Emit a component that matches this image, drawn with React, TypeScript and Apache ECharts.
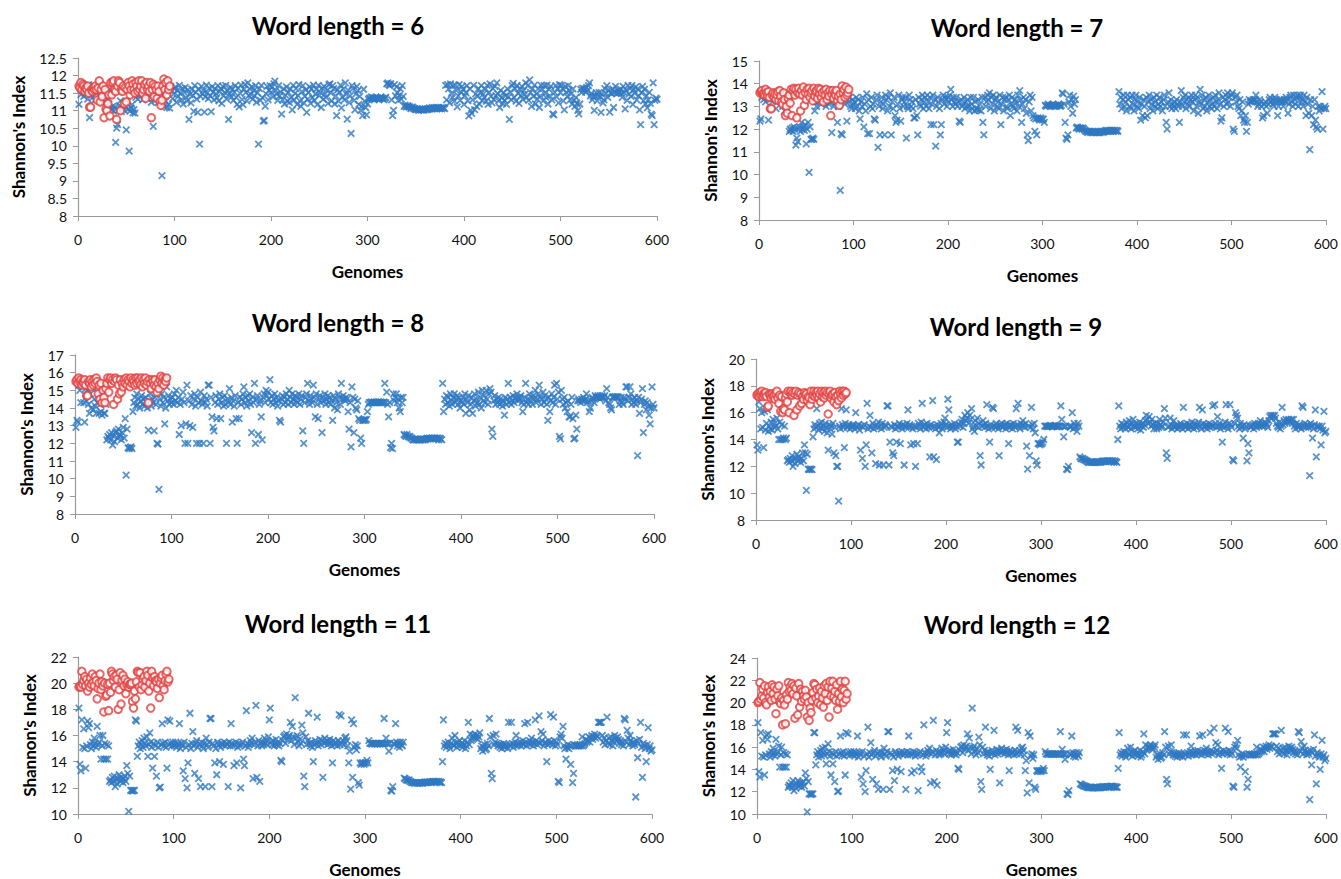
import React, { useEffect, useRef } from "react";
import * as echarts from "echarts";

// Shannon's index per genome (genome index = position + 1)
const blue6 = [
11.18,11.72,11.46,11.78,11.63,11.41,11.69,11.52,11.61,11.33,11.74,10.8,11.47,11.58,11.37,11.71,11.29,11.64,11.55,11.68,
11.43,11.62,11.27,11.73,11.51,11.22,11.57,11.42,11.13,11.49,11.31,11.19,11.61,11.08,11.03,11.12,10.98,11.09,10.1,10.5,
10.6,11.02,11.14,11.28,10.97,11.07,11.21,11.01,11.11,10.45,11.26,11.04,9.85,10.99,11.08,11.17,10.94,11.03,10.93,11.38,
11.52,11.33,11.58,11.44,11.66,11.49,11.31,11.62,11.39,11.71,11.47,11.34,11.59,11.42,11.53,11.24,11.64,10.55,11.37,11.29,
11.61,11.48,11.23,11.68,11.32,11.54,9.15,11.43,11.12,11.63,11.27,11.09,11.51,11.18,11.07,11.69,11.58,11.34,11.47,11.62,
11.68,11.24,11.57,11.41,11.72,11.49,11.31,11.63,11.19,11.53,11.66,11.38,11.28,11.59,10.75,11.46,11.22,11.61,11.43,10.98,
11.71,11.52,11.33,10.95,11.62,10.05,11.41,11.69,11.48,11.57,10.96,11.39,11.73,11.51,11.34,11.64,11.42,10.97,11.68,11.53,
11.31,11.63,11.48,11.37,11.71,11.28,11.54,11.62,11.21,11.69,11.43,11.52,11.72,11.33,11.58,10.75,11.47,11.66,11.39,11.61,
11.29,11.53,11.71,11.38,11.18,11.64,11.11,11.49,11.73,11.32,11.17,11.61,11.74,11.52,11.28,11.79,11.43,11.62,11.47,11.68,
11.33,11.57,11.42,11.71,11.24,11.51,10.05,11.63,11.29,11.72,11.37,10.7,10.72,11.13,11.48,11.69,11.31,11.58,11.71,11.52,
11.67,11.39,11.76,11.84,11.58,11.47,11.29,11.71,11.42,11.53,10.9,11.31,11.62,11.19,11.44,11.68,11.27,11.52,11.23,11.61,
11.38,11.02,11.72,11.31,11.49,11.63,11.18,11.43,11.74,11.27,11.12,11.54,11.71,11.22,11.41,11.59,10.95,11.33,11.52,11.68,
11.21,11.62,11.37,11.73,11.29,11.48,11.61,11.17,11.72,11.43,11.52,11.09,11.64,11.32,11.69,11.47,11.38,11.58,11.21,11.74,
11.76,11.51,11.28,11.71,11.63,11.19,11.42,10.86,11.59,11.27,11.53,11.73,11.08,11.39,11.62,11.31,11.79,11.47,10.76,11.58,
11.23,11.42,10.35,11.71,11.63,11.29,11.02,11.48,11.69,11.57,11.18,11.41,11.01,11.12,10.86,11.61,11.27,11.09,10.88,11.19,
11.32,11.36,11.34,11.39,11.35,11.37,11.31,11.35,11.38,11.34,11.36,11.32,11.35,11.39,11.34,11.36,11.31,11.35,11.38,11.76,
11.79,11.74,11.71,11.77,11.31,10.86,11.01,11.74,11.42,11.68,11.51,11.29,11.43,11.62,11.33,11.71,11.41,11.12,11.16,11.11,
11.12,11.14,11.1,11.11,11.06,11.09,11.1,11.05,11.06,11.02,11.05,11.04,11.01,11.05,11.03,11.02,11.05,11.01,11.04,11.05,
11.02,11.05,11.04,11.08,11.05,11.06,11.09,11.05,11.08,11.06,11.09,11.05,11.08,11.09,11.06,11.08,11.05,11.09,11.08,11.06,
11.72,11.31,11.74,11.62,11.22,11.76,11.49,11.38,11.71,11.27,11.73,11.58,11.11,11.42,11.74,11.29,11.52,11.69,11.61,11.18,
11.42,11.51,11.71,11.28,10.85,11.62,11.01,10.92,11.31,11.72,11.03,11.48,11.12,11.41,11.63,11.19,11.52,11.71,11.29,11.47,
11.38,11.61,11.27,11.72,11.18,11.52,11.76,11.41,11.22,11.63,11.32,11.69,11.43,11.79,11.48,11.28,11.09,11.58,11.37,11.21,
11.51,11.29,11.42,11.18,11.62,11.39,10.75,11.53,11.31,11.71,11.78,11.38,11.63,11.27,11.72,11.49,11.21,11.61,11.43,11.69,
11.32,11.58,11.47,11.79,11.38,11.71,11.29,11.88,11.52,11.12,11.62,11.41,11.73,11.19,11.48,11.33,11.63,11.09,11.42,11.72,
11.62,11.28,11.71,11.49,11.38,11.73,11.19,11.61,11.42,11.69,11.31,10.91,10.88,11.52,11.71,11.39,11.63,11.22,11.74,11.51,
11.72,11.63,11.28,11.02,11.69,11.52,11.41,11.71,11.58,11.31,11.48,11.19,11.62,11.29,11.12,11.38,11.21,11.01,10.91,11.19,
11.61,11.52,11.64,11.59,11.62,11.53,11.66,11.58,11.71,11.79,11.42,11.49,11.31,11.39,11.01,11.42,11.51,11.28,11.43,11.52,
11.39,10.95,11.47,11.22,11.31,11.63,11.49,11.71,11.38,11.58,10.96,11.51,11.48,11.62,11.09,11.52,11.69,11.49,11.58,11.51,
11.53,11.61,11.49,11.38,11.69,11.52,11.05,11.58,11.29,11.72,11.47,11.63,11.41,11.71,11.18,11.59,11.49,11.68,11.31,11.62,
11.42,11.02,10.6,11.51,11.69,11.28,11.61,11.19,11.43,11.08,11.31,11.52,11.21,10.9,10.86,11.79,10.6,11.29,11.36,11.32,
];
const red6 = [
11.7,11.65,11.8,11.6,11.75,11.7,11.55,11.65,11.6,11.7,11.5,11.1,11.1,11.6,11.55,11.65,11.6,11.7,11.6,11.3,
11.65,11.85,11.25,11.6,11.4,11.7,10.8,11.6,11.05,11.0,11.2,11.45,10.85,11.8,11.45,11.8,11.85,11.6,11.55,10.75,
11.7,11.85,11.8,11.0,11.6,11.55,11.7,11.2,11.65,11.25,11.6,11.8,11.7,11.45,11.6,11.85,11.75,11.6,11.5,11.8,
11.7,11.55,11.85,11.6,11.7,11.85,11.5,11.6,11.75,11.35,11.8,11.6,11.7,11.55,11.8,10.8,11.6,11.75,11.4,11.7,
11.6,11.35,11.7,11.55,11.25,11.15,11.3,11.7,11.9,11.6,11.8,11.45,11.85,11.6,11.7,
];

const blue7 = [
12.35,12.45,13.4,13.6,13.3,13.5,13.2,13.6,13.4,12.4,13.5,13.3,13.6,13.2,13.5,13.4,13.6,12.9,13.5,13.3,
13.5,13.6,13.2,13.4,13.0,13.5,12.8,13.3,13.1,12.9,13.4,11.9,12.0,11.95,12.05,11.9,12.1,12.0,11.3,11.6,
11.45,12.0,12.1,11.9,12.3,12.0,12.1,11.95,12.2,11.35,12.0,12.3,10.1,12.1,11.55,11.55,11.6,11.55,12.8,13.2,
13.0,13.4,13.2,13.5,13.3,13.1,13.4,13.6,13.2,13.5,13.0,13.3,13.4,13.1,13.5,13.2,11.85,13.4,13.0,13.3,
13.5,13.2,12.3,13.0,13.4,9.3,11.8,11.75,13.3,13.5,13.1,13.4,12.35,13.7,13.2,13.4,13.0,12.9,13.3,13.1,
13.2,12.9,13.4,13.0,13.3,12.8,12.45,13.2,13.0,13.4,12.1,13.1,12.8,13.55,11.8,13.3,11.8,13.0,13.4,12.9,
13.1,12.45,12.4,13.3,13.5,11.2,13.0,11.75,13.2,13.4,12.9,13.1,11.75,13.5,13.3,12.8,13.4,13.0,13.6,11.75,
13.2,12.9,13.4,12.6,12.3,12.4,13.1,13.5,12.9,12.35,13.3,13.4,13.0,13.2,13.4,11.6,13.0,12.9,13.5,13.3,
13.0,13.2,12.9,12.5,12.5,13.3,12.6,11.75,13.4,13.1,13.0,13.3,13.5,12.9,13.2,13.4,13.0,13.5,13.2,12.9,
13.4,12.2,13.1,13.5,12.2,13.3,11.25,13.0,13.4,13.2,12.9,11.75,12.2,13.3,13.5,13.1,13.4,13.3,13.0,13.4,
13.2,13.5,13.75,13.3,13.0,13.4,13.2,13.1,13.4,13.0,13.2,12.35,12.3,13.3,13.0,13.1,13.4,12.9,13.2,13.0,
13.3,13.0,12.8,13.4,13.1,12.9,13.4,12.8,13.2,12.9,12.85,13.3,12.85,13.1,12.8,13.4,12.3,11.75,13.4,13.0,
13.2,13.5,13.3,13.6,12.9,13.4,13.1,13.5,12.8,13.3,13.4,13.0,13.2,12.9,13.5,12.2,13.1,13.4,12.8,13.3,
13.4,13.0,12.9,13.3,13.5,12.6,13.1,13.4,13.0,12.9,13.3,13.2,12.8,13.5,13.0,13.7,13.3,12.3,13.1,13.4,
12.9,13.3,12.7,11.75,11.5,13.2,13.5,12.8,13.4,12.6,12.5,11.9,12.45,11.75,12.5,12.45,12.4,12.5,12.45,12.4,
12.45,12.3,13.05,13.0,13.05,13.1,13.05,13.0,13.05,13.05,13.1,13.0,13.05,13.05,13.0,13.05,13.1,13.05,13.0,13.05,
13.6,13.55,13.1,12.3,11.6,11.55,11.75,13.2,13.5,13.0,13.3,12.7,13.45,13.1,13.3,12.05,12.1,12.05,12.0,12.05,
12.05,12.0,12.05,12.0,11.95,11.9,11.9,11.85,11.9,11.9,11.85,11.9,11.85,11.9,11.85,11.9,11.85,11.85,11.9,11.85,
11.85,11.9,11.9,11.85,11.9,11.9,11.95,11.9,11.95,11.9,11.95,11.9,11.95,11.95,11.9,11.95,11.95,11.9,11.95,11.9,
13.65,13.1,13.4,12.9,13.3,13.5,13.0,13.2,12.8,13.5,13.3,13.0,13.4,12.9,13.5,13.1,12.8,13.3,13.5,13.0,
13.2,12.9,13.4,12.4,13.1,12.6,13.3,13.0,12.5,13.4,12.6,13.2,13.5,12.9,13.3,13.1,12.8,13.4,13.0,13.2,
13.5,12.9,13.1,13.4,13.0,13.2,12.8,13.3,13.5,13.0,12.3,12.0,13.2,13.6,13.0,13.3,12.9,13.1,13.0,13.2,
12.9,13.3,13.1,13.0,12.3,13.2,13.7,13.0,13.4,13.2,13.5,12.9,13.3,13.1,13.4,13.0,13.3,13.5,13.2,12.8,
13.3,13.5,13.0,13.4,12.7,13.2,13.75,13.1,13.5,12.9,13.3,13.0,13.4,12.8,13.2,13.5,13.0,13.3,12.9,13.1,
13.4,13.0,13.5,13.2,12.9,13.3,13.6,13.1,12.35,12.5,13.4,13.0,13.3,13.5,13.1,13.6,13.2,13.4,13.0,13.5,
13.6,12.0,11.9,13.4,13.2,13.5,13.0,12.9,13.3,12.6,12.8,13.2,12.4,12.3,12.6,11.9,12.3,13.1,13.3,13.2,
13.25,13.2,13.3,13.25,13.3,13.5,13.2,13.0,13.1,13.3,13.2,13.0,12.5,12.6,13.1,13.2,13.0,12.7,13.1,13.3,
13.4,13.2,13.3,13.1,13.0,13.4,13.3,13.2,12.6,13.0,13.3,13.2,13.3,13.2,13.0,13.3,13.2,13.4,13.3,12.7,
13.1,13.4,13.5,13.2,13.0,13.5,13.3,13.1,13.4,13.5,13.0,13.4,13.5,13.2,13.3,13.0,13.5,13.2,12.6,13.4,
13.1,12.7,11.1,13.3,12.6,13.0,12.2,13.3,12.4,12.1,12.0,13.0,12.8,13.0,12.9,13.65,12.0,12.9,13.0,12.9,
];
const red7 = [
13.6,13.65,13.7,13.55,13.6,13.5,13.75,13.6,13.45,13.65,13.4,12.9,12.9,13.5,13.6,13.4,13.55,13.3,13.5,13.65,
13.25,13.7,13.45,13.2,13.1,13.6,13.3,12.6,13.0,12.7,13.35,13.5,13.15,13.75,12.6,13.7,13.8,13.5,13.75,12.5,
13.6,13.8,13.55,12.8,13.7,13.5,13.85,13.05,13.6,13.3,13.75,13.55,13.8,13.4,13.6,13.7,13.25,13.8,13.45,13.65,
13.7,13.35,13.8,13.55,13.75,13.4,13.6,13.2,13.7,13.5,13.75,13.3,13.6,13.45,13.7,12.6,13.55,13.7,13.35,13.6,
13.5,13.7,13.25,13.45,13.05,13.55,13.3,13.9,13.6,13.75,13.4,13.85,13.5,13.6,13.75,
];

const blue8 = [
12.9,13.3,13.2,15.3,15.0,14.3,15.4,15.2,14.3,13.2,15.1,14.4,15.0,14.2,13.7,14.8,14.0,15.1,13.9,14.5,
14.1,13.7,14.3,14.9,13.7,14.2,13.8,13.6,14.5,13.7,13.7,14.2,12.2,12.4,12.3,12.5,12.2,12.6,11.9,12.4,
12.1,12.6,12.7,12.3,12.8,12.5,12.4,12.2,12.6,12.9,12.3,13.4,10.2,12.8,11.75,11.7,11.75,11.8,11.7,13.8,
14.3,14.6,14.1,14.8,14.2,14.5,14.0,14.4,14.7,14.2,14.5,14.1,14.6,14.3,14.0,12.75,14.4,14.8,14.1,14.5,
14.3,12.7,14.6,14.2,12.0,11.95,9.4,14.5,14.1,14.8,14.3,14.6,13.1,14.0,15.2,14.4,14.7,14.2,14.5,14.3,
14.6,14.2,14.8,14.4,15.0,14.3,14.6,12.5,14.2,13.0,14.5,14.9,14.3,12.0,13.1,15.3,12.0,14.4,13.0,14.7,
14.2,12.9,14.5,14.8,14.1,12.0,14.6,14.3,12.0,14.9,14.4,14.2,12.0,14.7,14.3,14.5,14.1,15.3,15.3,12.0,
14.6,13.5,12.9,12.7,14.3,14.7,13.4,14.2,14.5,14.8,13.4,14.3,14.6,14.1,14.7,14.2,12.0,14.5,14.3,15.1,
14.2,14.6,13.2,14.4,14.1,14.7,13.4,12.0,14.3,13.4,14.6,14.2,14.5,14.8,15.2,14.3,14.6,14.1,14.7,14.4,
14.8,14.2,12.6,14.6,14.3,15.4,12.0,14.5,14.7,12.5,14.2,14.4,13.5,12.2,14.6,14.8,14.3,15.0,14.7,14.9,
14.5,15.6,14.3,14.7,14.2,14.5,14.8,14.3,14.6,14.1,14.4,13.3,13.2,14.5,14.7,14.2,14.6,14.3,14.8,14.5,
14.2,15.0,14.6,14.3,14.8,14.5,14.2,14.7,14.4,14.6,14.3,14.8,14.2,14.5,14.7,12.7,12.0,14.3,14.6,14.8,
15.4,14.4,14.2,14.7,14.5,14.3,15.3,14.6,13.5,14.8,14.2,13.4,14.5,14.7,14.3,12.6,14.6,14.4,14.8,14.2,
14.5,14.7,14.3,14.6,14.2,14.4,13.3,14.7,14.0,14.5,14.3,13.9,14.8,14.6,14.2,15.4,14.5,14.7,14.5,14.4,
14.6,14.5,13.8,12.8,14.3,11.8,15.2,14.6,12.6,14.5,14.0,13.9,14.4,13.4,13.3,12.3,12.0,13.3,13.3,13.35,
13.3,13.35,13.8,14.2,14.3,14.3,14.35,14.3,14.3,14.35,14.3,14.3,14.3,14.35,14.3,14.3,14.35,14.3,14.3,14.35,
15.4,14.3,14.9,14.2,13.5,14.3,11.75,12.0,11.7,14.8,14.4,14.6,14.8,14.3,14.5,14.0,13.8,14.6,14.3,14.6,
12.5,12.45,12.4,12.5,12.4,12.35,12.4,12.3,12.3,12.2,12.2,12.25,12.2,12.2,12.25,12.2,12.2,12.2,12.25,12.2,
12.2,12.25,12.2,12.25,12.3,12.25,12.3,12.25,12.3,12.3,12.25,12.3,12.3,12.25,12.3,12.3,12.2,12.3,12.25,12.2,
15.4,13.8,14.5,14.2,14.7,14.3,14.6,14.1,14.8,14.4,14.2,14.6,14.8,14.3,14.5,14.7,14.2,14.6,14.0,14.4,
14.3,14.6,14.2,14.8,13.7,14.5,14.3,14.7,13.9,14.2,14.6,13.7,14.4,14.8,14.1,14.5,14.3,14.9,14.2,14.6,
14.0,15.0,14.4,14.7,14.3,15.0,14.5,14.2,14.8,15.1,14.9,12.8,12.4,14.4,14.7,14.2,14.5,14.3,14.6,14.2,
14.5,14.3,14.1,14.4,13.6,14.6,14.2,14.5,15.4,14.3,14.6,14.2,14.4,14.7,14.3,14.5,14.6,14.8,14.4,14.6,
14.5,14.7,14.3,13.8,14.2,14.6,15.4,14.3,14.5,14.2,14.8,14.4,14.6,14.2,14.7,14.5,15.0,14.3,14.5,14.8,
15.3,14.6,14.2,14.5,14.9,14.3,14.7,14.5,14.2,13.3,14.6,13.8,14.4,14.8,14.3,14.6,15.3,14.2,15.4,14.5,
14.9,12.4,12.25,15.0,14.5,14.2,14.6,14.0,14.3,13.8,14.4,13.5,13.5,14.2,14.6,13.4,12.25,12.3,13.6,12.8,
14.4,14.5,14.4,14.3,14.5,14.4,14.6,14.4,14.5,14.8,14.3,14.4,13.8,14.0,14.4,14.6,14.5,14.3,14.7,14.6,
14.6,14.7,14.6,14.5,14.6,14.7,14.6,14.6,14.7,14.4,15.1,14.6,14.3,14.2,14.0,13.9,14.6,14.65,14.6,14.65,
14.6,14.65,14.6,14.2,14.4,14.6,14.3,14.2,14.6,14.5,15.2,15.2,14.4,14.6,15.2,14.8,14.2,14.5,14.3,14.6,
14.2,14.4,11.3,14.6,13.7,14.3,14.5,15.1,12.6,14.2,14.4,13.9,14.3,14.1,13.6,13.1,14.0,15.2,14.2,14.0,
];
const red8 = [
15.5,15.6,15.4,15.7,15.5,15.6,15.3,15.5,15.4,15.6,15.3,14.7,14.7,15.5,15.4,15.6,15.2,15.5,15.3,15.6,
15.4,15.7,15.5,14.8,15.3,14.5,15.4,14.3,15.0,14.6,14.3,15.1,15.4,15.7,14.9,15.6,15.7,15.4,15.6,14.2,
15.5,15.7,15.6,14.5,15.3,14.8,15.6,14.9,15.4,15.2,15.6,15.4,15.7,15.3,15.6,15.5,15.2,15.7,15.4,15.6,
15.5,15.3,15.7,15.4,15.7,15.5,15.6,15.3,15.7,15.2,15.6,15.4,15.7,15.3,15.5,14.3,15.6,15.4,15.1,15.6,
15.5,15.3,15.6,15.2,14.9,15.4,15.1,15.6,15.8,15.4,15.7,15.3,15.6,15.5,15.7,
];

const blue9 = [
13.6,13.2,16.8,16.3,14.8,16.0,14.9,13.4,16.1,14.7,15.2,16.2,14.6,15.0,14.8,15.3,14.7,15.5,14.9,15.2,
15.0,15.6,14.8,14.0,15.3,14.0,15.1,14.0,14.1,15.0,14.0,14.1,12.4,12.5,12.3,12.6,12.4,12.8,12.0,12.5,
12.2,12.6,12.9,12.4,12.7,12.5,12.3,12.6,13.0,12.4,13.6,13.0,10.2,12.9,11.8,11.75,11.8,11.8,11.75,14.2,
14.8,15.1,14.9,16.3,15.0,14.7,15.2,14.9,15.3,14.8,15.0,14.6,15.2,14.9,14.5,13.2,15.1,14.8,15.0,14.4,
15.2,13.0,14.9,12.8,12.0,12.0,9.4,15.0,14.8,16.3,15.1,14.9,13.4,15.2,16.2,14.9,15.0,15.1,14.8,15.0,
14.9,15.1,15.0,14.8,16.0,15.0,14.9,15.1,14.7,13.2,15.0,12.6,14.9,15.1,12.0,13.6,16.7,14.8,15.0,15.8,
14.9,13.0,15.2,14.8,15.0,12.2,15.1,14.9,15.3,12.1,15.0,14.8,15.2,12.1,14.9,15.1,15.0,16.5,16.5,12.1,
13.8,15.0,14.9,13.0,12.8,15.1,14.8,13.8,15.0,14.9,15.2,13.7,15.0,14.8,15.1,12.1,15.0,14.9,15.2,16.2,
14.9,15.1,13.6,15.0,14.8,13.7,15.0,12.0,14.9,13.7,15.2,15.0,14.8,15.3,16.7,15.0,14.9,15.1,14.8,15.2,
15.0,14.9,12.7,15.1,14.9,16.9,12.7,15.0,14.8,12.5,15.1,14.9,14.5,15.0,15.2,14.8,15.0,15.3,15.6,15.1,
14.9,17.0,16.2,15.0,14.8,15.1,14.9,15.0,15.2,14.8,15.0,13.8,13.8,15.1,15.0,15.3,15.5,14.9,15.2,15.8,
15.4,15.6,16.0,15.2,15.8,15.5,16.3,14.8,15.0,14.6,15.4,15.0,15.6,14.9,15.2,12.8,12.1,15.0,15.4,15.1,
14.9,15.2,16.6,15.0,14.8,13.8,15.1,14.9,16.4,16.3,15.0,14.9,15.2,15.0,14.8,12.8,15.1,15.0,15.2,14.9,
15.0,15.1,14.8,15.2,15.0,13.7,14.9,15.1,15.0,14.8,15.2,15.0,14.9,16.3,15.1,16.7,15.0,14.8,15.2,15.0,
15.4,15.1,14.9,15.2,13.5,11.8,15.0,12.8,14.9,16.4,15.1,14.8,15.2,14.5,12.4,12.1,13.7,13.7,13.6,13.7,
13.7,13.8,14.0,15.0,15.0,15.0,14.95,15.0,15.0,15.05,15.0,14.95,15.0,15.0,15.05,15.0,14.95,15.0,15.0,15.0,
16.5,15.5,15.0,14.2,14.95,15.0,11.8,11.75,12.0,15.0,14.9,15.0,16.0,14.8,15.2,14.9,15.0,14.6,15.2,15.0,
12.7,12.6,12.55,12.6,12.5,12.5,12.45,12.4,12.35,12.3,12.3,12.35,12.3,12.3,12.35,12.3,12.3,12.3,12.35,12.3,
12.3,12.35,12.3,12.35,12.4,12.35,12.4,12.35,12.4,12.4,12.35,12.4,12.4,12.35,12.4,12.4,12.3,12.4,12.35,12.3,
14.0,16.5,15.0,14.8,15.2,14.9,15.1,15.0,14.8,15.3,15.0,14.9,15.4,15.1,14.8,15.2,15.5,15.0,14.9,15.2,
15.0,14.8,15.1,15.3,14.7,15.0,15.2,14.9,15.1,15.4,15.8,15.5,15.2,15.7,15.3,15.0,15.5,15.1,14.8,15.2,
15.0,14.8,15.2,14.9,15.5,15.1,14.9,15.0,15.3,16.3,15.6,13.0,12.6,14.9,15.0,15.6,15.1,14.8,15.0,15.4,
14.9,15.0,15.1,14.8,15.0,14.9,15.2,15.0,14.8,16.4,15.1,14.9,15.0,15.2,14.8,15.0,15.1,14.9,15.3,15.0,
14.8,15.2,15.0,14.9,15.1,15.3,16.4,15.0,14.8,16.2,15.2,15.0,14.9,15.1,14.8,15.0,15.2,14.9,15.1,15.0,
16.5,15.0,16.6,15.2,14.9,15.7,15.0,15.2,14.8,15.0,13.8,15.1,14.9,15.3,16.6,15.0,14.8,15.2,16.6,15.1,
14.9,12.5,12.4,15.2,16.0,15.8,15.6,15.0,14.8,15.2,14.9,15.0,14.1,15.1,14.8,15.0,12.4,13.7,13.0,15.0,
14.9,15.0,15.1,14.8,15.2,15.0,14.9,15.1,15.2,15.0,15.4,15.1,15.0,15.2,15.0,15.3,15.2,15.1,14.9,15.4,
15.7,15.8,15.6,15.8,15.7,15.8,15.6,15.2,15.0,14.9,15.3,14.8,15.0,16.4,15.1,15.4,15.2,15.5,15.3,15.4,
15.5,15.3,15.4,15.5,15.2,15.5,15.0,14.8,15.2,15.0,14.9,15.1,15.0,14.8,16.5,16.4,15.0,15.2,14.9,15.1,
15.0,14.9,11.3,15.2,15.0,14.1,14.8,15.1,16.2,12.7,15.0,14.9,15.0,14.8,13.6,15.0,14.7,16.1,14.5,14.6,
];
const red9 = [
17.3,17.4,17.2,17.5,17.3,17.6,17.2,17.4,17.3,17.5,17.2,16.4,16.5,17.4,17.3,17.1,17.4,17.2,17.3,17.0,
17.4,17.6,17.1,16.7,17.3,16.1,17.2,16.0,16.3,16.2,17.1,17.4,16.8,17.6,16.0,17.5,17.6,17.3,17.5,15.8,
17.4,17.6,16.2,17.3,17.5,16.5,17.4,16.7,17.2,17.0,17.5,17.3,17.4,16.9,17.2,17.1,16.6,17.6,17.0,17.3,
17.6,17.2,17.5,17.3,17.6,17.1,17.4,16.8,17.6,17.2,17.5,17.1,17.6,17.3,17.5,15.9,17.4,17.6,17.1,17.3,
17.4,16.8,17.5,17.2,16.6,17.3,16.9,17.6,17.4,17.1,17.6,17.3,17.6,17.4,17.5,
];

const blue11 = [
18.1,13.8,13.3,17.2,15.1,16.5,15.0,13.5,15.2,17.1,16.6,16.9,15.3,15.0,15.5,15.2,15.8,15.4,15.1,16.7,
15.3,15.5,16.0,14.2,15.2,16.0,14.2,15.4,14.2,15.3,14.2,15.2,12.5,12.6,12.4,12.8,12.5,12.9,12.1,12.6,
12.3,12.7,13.0,12.5,12.8,12.6,12.4,12.7,12.9,12.5,13.7,13.1,10.2,12.9,11.8,11.8,11.75,11.8,11.8,17.2,
17.1,14.4,15.2,15.5,15.0,15.3,15.6,15.1,15.8,15.4,15.2,15.9,14.4,15.3,16.2,15.5,15.1,13.5,15.4,14.4,
15.2,12.9,15.5,15.1,12.0,12.05,15.3,16.9,15.4,15.2,15.5,15.1,13.5,17.2,15.3,17.1,15.4,15.2,15.5,15.3,
15.2,15.5,15.1,15.4,15.3,16.9,15.0,15.4,15.2,13.3,15.5,12.7,15.1,12.0,13.9,15.3,17.7,15.0,15.4,16.3,
15.2,13.1,15.4,15.6,15.1,12.7,15.3,12.1,15.5,15.2,15.0,15.4,12.1,15.8,15.3,15.1,15.5,17.3,17.3,12.1,
15.4,15.2,13.9,15.0,13.0,15.5,15.3,14.0,15.1,15.4,15.3,13.8,15.5,15.2,15.4,15.3,12.1,15.5,15.2,16.9,
15.4,15.2,13.7,15.3,15.5,13.9,15.1,15.4,15.2,12.0,15.3,15.5,14.2,13.7,15.2,17.9,15.4,15.1,15.3,15.6,
15.4,15.8,12.7,15.3,15.5,18.3,12.8,15.2,15.6,12.5,15.4,15.2,15.5,15.3,15.8,15.4,15.6,15.3,15.9,17.2,
18.1,15.5,15.3,15.6,15.2,15.4,15.7,15.3,15.5,15.2,15.4,14.1,14.0,15.6,15.9,16.0,15.4,16.1,15.7,15.9,
16.0,17.0,15.6,16.7,15.9,15.3,18.9,15.8,16.0,15.5,15.2,15.7,15.4,16.8,16.2,12.9,12.1,15.9,15.3,15.6,
17.7,15.4,15.2,15.5,15.1,14.0,15.3,15.6,15.4,17.4,15.2,15.5,15.7,15.3,15.6,12.8,15.4,15.8,15.5,15.6,
15.3,15.5,15.7,15.4,15.2,13.9,15.6,15.3,15.5,15.4,15.2,15.6,17.6,15.3,17.5,15.4,15.6,15.3,15.8,15.9,
15.6,15.2,13.9,14.8,11.9,17.2,12.8,16.9,15.1,15.3,14.9,15.2,12.4,12.2,13.9,13.8,13.9,13.9,13.8,13.9,
13.9,14.1,13.9,15.6,15.4,15.4,15.35,15.4,15.4,15.35,15.4,15.4,15.35,15.4,15.4,15.35,15.4,15.4,15.35,17.3,
15.4,15.8,15.4,15.35,14.8,15.4,11.8,11.75,12.1,15.4,15.3,16.9,15.5,15.2,15.4,15.1,15.5,15.3,15.2,15.5,
12.75,12.7,12.6,12.6,12.55,12.6,12.5,12.45,12.4,12.4,12.4,12.35,12.4,12.4,12.35,12.4,12.35,12.4,12.4,12.35,
12.4,12.4,12.45,12.4,12.45,12.4,12.45,12.45,12.4,12.45,12.5,12.45,12.5,12.45,12.5,12.45,12.5,12.4,12.45,12.4,
14.0,17.2,15.2,15.4,15.1,15.3,15.5,15.2,15.0,15.4,15.8,15.3,15.2,16.0,15.4,15.1,15.5,15.3,15.6,15.2,
15.4,15.1,15.3,15.6,15.0,15.2,15.5,17.0,15.3,16.1,15.6,15.8,16.0,15.9,16.1,15.8,16.0,15.7,15.9,16.2,
15.0,15.2,14.8,15.1,15.3,14.9,15.0,15.4,15.2,17.3,15.9,13.1,12.7,16.0,15.3,15.5,16.1,15.4,15.2,15.3,
15.1,15.3,15.0,15.2,15.4,15.1,15.3,15.2,15.0,17.0,15.3,15.2,17.0,15.4,15.1,15.3,15.5,16.0,15.2,15.4,
15.3,15.5,15.2,15.4,15.6,15.3,16.9,15.5,15.2,17.0,15.4,15.6,15.3,15.8,15.5,15.2,15.4,17.2,15.6,15.3,
15.5,17.5,15.4,16.3,15.6,16.1,15.2,15.4,15.5,14.0,15.3,15.6,15.4,17.6,15.5,15.3,17.4,15.6,15.2,15.5,
15.3,12.5,12.4,15.9,16.1,15.8,16.7,15.2,15.0,14.2,15.1,15.3,15.0,15.2,13.8,15.2,12.4,13.1,15.3,15.2,
15.2,15.3,15.2,15.2,15.3,15.2,15.9,15.2,15.3,15.4,15.7,15.5,15.6,15.9,15.5,15.8,16.0,15.7,15.9,16.1,
15.8,16.0,15.9,17.0,17.0,17.0,17.0,16.0,15.5,15.8,15.3,15.6,17.4,15.4,15.8,15.3,15.9,15.6,15.2,15.5,
16.0,15.8,15.6,15.9,15.7,15.4,15.6,15.3,15.5,15.2,17.3,17.2,15.5,16.4,15.8,15.3,16.0,15.6,15.4,15.2,
15.5,15.3,11.3,15.6,14.3,15.4,15.7,17.0,15.1,12.8,15.4,15.2,15.0,14.0,15.3,16.6,15.0,15.2,14.8,14.9,
];
const red11 = [
19.7,19.8,19.7,20.9,19.9,20.2,20.5,19.8,20.3,19.4,20.0,19.7,20.4,19.9,20.7,20.1,19.8,20.5,20.2,18.8,
19.6,20.0,20.7,19.5,20.1,19.8,17.8,20.0,19.0,19.1,19.9,17.9,20.0,19.3,20.9,20.7,20.2,20.5,19.7,20.6,
20.3,18.0,19.5,20.8,18.4,20.2,20.6,19.8,20.3,19.2,19.9,20.1,19.7,19.9,19.9,20.0,18.6,18.1,19.4,18.8,
20.1,20.9,20.8,19.7,20.8,19.5,19.9,20.3,20.5,19.7,20.2,20.9,20.6,19.4,20.0,18.1,20.9,20.4,19.8,20.5,
20.2,20.1,19.6,20.3,18.9,20.0,20.4,20.6,19.8,19.5,20.2,20.7,20.9,20.1,20.3,
];

const blue12 = [
18.2,13.8,13.3,17.3,15.2,16.6,15.1,13.5,15.3,17.1,16.7,17.2,15.4,15.1,15.6,15.3,15.9,15.5,15.2,16.7,
15.4,15.6,16.1,14.2,15.3,16.0,14.2,15.5,14.2,15.4,14.2,15.3,12.4,12.6,12.5,12.8,12.4,13.0,12.1,12.6,
12.3,12.7,13.0,12.5,12.8,12.6,12.4,12.8,12.9,12.5,13.7,13.2,10.2,12.9,11.8,11.8,11.75,11.8,11.8,17.3,
17.3,14.4,15.3,15.6,15.1,15.4,15.7,15.2,15.9,15.5,15.3,16.0,14.5,15.4,16.3,15.6,15.2,13.5,15.5,14.5,
15.3,12.9,15.6,15.2,12.0,12.05,15.4,17.0,15.5,15.3,15.6,15.2,13.5,17.3,15.4,17.2,15.5,15.3,15.6,15.4,
15.3,15.6,15.2,15.5,15.4,17.0,15.1,15.5,15.3,13.3,15.6,12.7,15.2,12.0,13.9,15.4,17.8,15.1,15.5,16.4,
15.3,13.1,15.5,15.7,15.2,12.7,15.4,12.2,15.6,15.3,15.1,15.5,12.2,15.9,15.4,15.2,15.6,17.4,17.4,12.2,
15.5,15.3,13.9,15.1,13.0,15.6,15.4,14.0,15.2,15.5,15.4,13.8,15.6,15.3,15.5,15.4,12.2,15.6,15.3,17.0,
15.5,15.3,13.7,15.4,15.6,13.9,15.2,15.5,15.3,12.1,15.4,15.6,14.2,13.8,15.3,18.0,15.5,15.2,15.4,15.7,
15.5,15.9,12.8,15.4,15.6,18.4,12.9,15.3,15.7,12.6,15.5,15.3,15.6,15.4,15.9,15.5,15.7,15.4,16.0,17.3,
18.2,15.6,15.4,15.7,15.3,15.5,15.8,15.4,15.6,15.3,15.5,14.1,14.0,15.7,16.0,16.1,15.5,16.2,15.8,16.0,
16.1,17.2,15.7,16.8,16.0,15.4,19.5,15.9,16.1,15.6,15.3,15.8,15.5,16.9,16.2,12.9,12.2,16.0,15.4,15.7,
17.8,15.5,15.3,15.6,15.2,14.0,15.4,15.7,15.5,17.5,15.3,15.6,15.8,15.4,15.7,12.8,15.5,15.9,15.6,15.7,
15.4,15.6,15.8,15.5,15.3,13.9,15.7,15.4,15.6,15.5,15.3,15.7,17.8,15.4,17.5,15.5,15.7,15.4,15.9,16.0,
15.7,15.3,13.9,14.8,11.9,17.3,12.8,17.0,15.2,15.4,15.0,15.3,12.4,12.2,13.9,13.8,13.9,13.9,13.8,13.9,
13.9,14.1,13.9,15.6,15.4,15.4,15.35,15.4,15.4,15.35,15.4,15.4,15.35,15.4,15.4,15.35,15.4,15.4,15.35,17.4,
15.4,15.8,15.4,15.35,14.9,15.4,11.8,11.75,12.1,15.4,15.3,17.0,15.5,15.2,15.4,15.1,15.5,15.3,15.2,15.5,
12.7,12.65,12.6,12.55,12.5,12.5,12.45,12.4,12.4,12.35,12.4,12.35,12.4,12.35,12.35,12.4,12.35,12.4,12.35,12.35,
12.4,12.35,12.4,12.4,12.45,12.4,12.45,12.4,12.45,12.45,12.4,12.45,12.5,12.45,12.5,12.45,12.4,12.45,12.4,12.4,
14.1,17.3,15.3,15.5,15.2,15.4,15.6,15.3,15.1,15.5,15.9,15.4,15.3,16.0,15.5,15.2,15.6,15.4,15.7,15.3,
15.5,15.2,15.4,15.7,15.1,15.3,15.6,17.2,15.4,16.2,15.7,15.9,16.1,16.0,16.2,15.9,16.1,15.8,16.0,16.2,
15.1,15.3,14.9,15.2,15.4,15.0,15.1,15.5,15.3,17.4,16.0,13.1,12.7,16.1,15.4,15.6,16.2,15.5,15.3,15.4,
15.2,15.4,15.1,15.3,15.5,15.2,15.4,15.3,15.1,17.1,15.4,15.3,17.1,15.5,15.2,15.4,15.6,16.1,15.3,15.5,
15.4,15.6,15.3,15.5,15.7,15.4,17.0,15.6,15.3,17.1,15.5,15.7,15.4,15.9,15.6,15.3,15.5,17.3,15.7,15.4,
15.6,17.7,15.5,16.4,15.7,16.2,15.3,15.5,15.6,14.1,15.4,15.7,15.5,17.7,15.6,15.4,17.4,15.7,15.3,15.6,
15.4,12.5,12.4,16.0,16.2,15.9,16.6,15.3,15.1,14.2,15.2,15.4,15.1,15.3,13.8,15.3,12.4,13.1,15.4,15.3,
15.3,15.4,15.3,15.3,15.4,15.3,16.0,15.3,15.4,15.5,15.8,15.6,15.7,16.0,15.6,15.9,16.1,15.8,16.0,16.2,
15.9,16.1,16.0,17.2,17.2,17.2,17.2,16.1,15.6,15.9,15.4,15.7,17.5,15.5,15.9,15.4,16.0,15.7,15.3,15.6,
16.1,15.9,15.7,16.0,15.8,15.5,15.7,15.4,15.6,15.3,17.4,17.3,15.6,16.5,15.9,15.4,16.1,15.7,15.5,15.3,
15.6,15.4,11.3,15.7,14.4,15.5,15.8,17.1,15.2,12.7,15.5,15.3,15.1,14.0,15.4,16.6,15.1,15.3,14.8,15.0,
];
const red12 = [
20.0,20.1,21.8,20.3,20.6,21.2,20.4,21.5,20.0,19.8,20.9,21.4,20.5,21.0,20.2,21.6,20.8,21.4,20.3,19.0,
21.2,20.6,21.5,20.1,19.9,20.4,18.0,20.2,19.8,18.1,20.7,20.3,21.8,21.0,21.4,21.1,21.7,20.8,21.5,18.6,
21.3,20.6,18.9,21.7,19.6,21.2,20.1,21.0,20.6,20.3,21.1,20.5,18.7,20.0,18.4,19.5,19.1,20.2,20.9,21.7,
21.6,20.4,21.2,20.0,20.6,21.3,19.8,21.0,20.4,19.6,21.5,20.8,21.7,20.2,21.4,18.7,21.9,20.6,21.3,21.9,
20.5,21.0,20.2,21.6,19.4,20.8,20.1,21.9,20.5,21.2,20.0,21.1,21.9,20.3,20.8,
];

const titles = ["Word length = 6", "Word length = 7", "Word length = 8", "Word length = 9", "Word length = 11", "Word length = 12"];
const yMins = [8, 8, 8, 8, 10, 10];
const yMaxs = [12.5, 15, 17, 20, 22, 24];
const yIntervals = [0.5, 1, 1, 2, 2, 2];
const xTicks = { min: 0, max: 600, interval: 100 };
const blueSets = [blue6, blue7, blue8, blue9, blue11, blue12];
const redSets = [red6, red7, red8, red9, red11, red12];

// layout (pixels)
const grids = [
  { left: 78, top: 58, width: 579, height: 158 },
  { left: 759, top: 61, width: 570, height: 159 },
  { left: 75, top: 355, width: 579, height: 159 },
  { left: 756, top: 359, width: 573, height: 161 },
  { left: 78, top: 657, width: 574, height: 160 },
  { left: 757, top: 658, width: 573, height: 160 },
];
const titlePos = [
  [338, 25], [1017, 27], [338, 322], [1016, 326], [338, 623], [1017, 624],
];
const yNameGaps = [51, 40, 40, 40, 40, 40];

const FONT = "Lato, 'Open Sans', sans-serif";
const BLUE = "#2f78c2";
const RED = "#e2403e";
const AXIS = "#9a9a9a";

export default function App() {
  const ref = useRef<HTMLDivElement>(null);
  useEffect(() => {
    document.body.style.margin = "0";
    if (!ref.current) return;
    const chart = echarts.init(ref.current, undefined, { renderer: "svg" });
    const xAxis: any[] = [];
    const yAxis: any[] = [];
    const series: any[] = [];
    const graphic: any[] = [];
    grids.forEach((g, i) => {
      xAxis.push({
        gridIndex: i,
        type: "value",
        min: xTicks.min,
        max: xTicks.max,
        interval: xTicks.interval,
        name: "Genomes",
        nameLocation: "middle",
        nameGap: 47,
        nameTextStyle: { fontFamily: FONT, fontWeight: "bold", fontSize: 17, color: "#000" },
        axisLine: { show: true, lineStyle: { color: AXIS, width: 1.2 } },
        axisTick: { show: true, length: 5, lineStyle: { color: AXIS } },
        axisLabel: { fontFamily: FONT, fontSize: 14, color: "#111", margin: 16 },
        splitLine: { show: false },
      });
      yAxis.push({
        gridIndex: i,
        type: "value",
        min: yMins[i],
        max: yMaxs[i],
        interval: yIntervals[i],
        name: "Shannon's Index",
        nameLocation: "middle",
        nameRotate: 90,
        nameGap: yNameGaps[i],
        nameTextStyle: { fontFamily: FONT, fontWeight: "bold", fontSize: 17, color: "#000" },
        axisLine: { show: true, lineStyle: { color: AXIS, width: 1.2 } },
        axisTick: { show: true, length: 5, lineStyle: { color: AXIS } },
        axisLabel: { fontFamily: FONT, fontSize: 14, color: "#111", margin: 11 },
        splitLine: { show: false },
      });
      series.push({
        type: "scatter",
        xAxisIndex: i,
        yAxisIndex: i,
        symbol: "path://M0,0L10,10M10,0L0,10",
        symbolSize: 6.5,
        itemStyle: { color: "rgba(0,0,0,0)", borderColor: BLUE, borderWidth: 1.8 },
        data: blueSets[i].map((v, k) => [k + 1, v]),
        z: 2,
      });
      series.push({
        type: "scatter",
        xAxisIndex: i,
        yAxisIndex: i,
        symbol: "emptyCircle",
        symbolSize: 7.5,
        itemStyle: { color: RED, borderColor: RED, borderWidth: 1.5 },
        data: redSets[i].map((v, k) => [k + 1, v]),
        z: 3,
      });
      graphic.push({
        type: "text",
        x: titlePos[i][0],
        y: titlePos[i][1],
        style: {
          text: titles[i],
          font: `bold 24px ${FONT}`,
          fill: "#000",
          align: "center",
          verticalAlign: "middle",
          textAlign: "center",
          textVerticalAlign: "middle",
        },
      });
    });
    chart.setOption({
      animation: false,
      backgroundColor: "#fff",
      grid: grids.map((g) => ({ ...g, containLabel: false })),
      xAxis,
      yAxis,
      series,
      graphic,
    });
    return () => chart.dispose();
  }, []);
  return <div ref={ref} style={{ width: 1341, height: 879 }} />;
}
